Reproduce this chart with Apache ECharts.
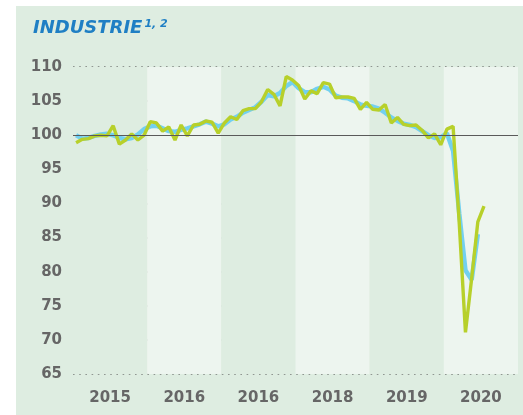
<!DOCTYPE html>
<html>
<head>
<meta charset="utf-8">
<script src="https://cdn.jsdelivr.net/npm/echarts@6/dist/echarts.min.js"></script>
<style>
  html, body { margin: 0; padding: 0; background: #fff; }
  #panel { position: absolute; left: 16px; top: 6px; width: 507px; height: 409px; background: #deede1; }
  #chart { position: absolute; left: 0; top: 0; width: 523px; height: 415px; }
</style>
</head>
<body>
<div id="panel"></div>
<div id="chart"></div>
<script>
// year labels as printed (the third one really reads 2016 in the source)
const yearLabels = ['2015', '2016', '2016', '2018', '2019', '2020']

// monthly index, Jan 2015 .. Jul 2020
const production = [
  98.9, 99.4, 99.5, 99.9, 100.0, 99.9, 101.4, 98.7, 99.3, 100.2, 99.3, 100.0,
  102.0, 101.8, 100.6, 101.2, 99.3, 101.5, 99.9, 101.5, 101.6, 102.1, 101.9, 100.3,
  101.8, 102.7, 102.3, 103.6, 103.9, 103.9, 104.9, 106.7, 106.0, 104.3, 108.6, 108.1,
  107.3, 105.3, 106.5, 106.1, 107.7, 107.5, 105.5, 105.6, 105.6, 105.4, 103.8, 104.8,
  103.8, 103.7, 104.5, 101.8, 102.6, 101.6, 101.4, 101.5, 100.7, 99.6, 100.2, 98.6,
  100.9, 101.3, 87.0, 71.1, 79.0, 87.3, 89.6,
]

// smoothed trend, Jan 2015 .. Jun 2020
const trend = [
  100.0, 99.5, 99.6, 99.9, 100.1, 100.2, 100.0, 99.6, 99.4, 99.6, 100.1, 100.9,
  101.3, 101.4, 101.0, 100.6, 100.5, 100.8, 101.0, 101.3, 101.6, 102.0, 101.7, 101.3,
  101.6, 102.3, 102.7, 103.3, 103.7, 104.1, 104.9, 105.9, 105.7, 106.2, 107.2, 107.8,
  106.9, 106.3, 106.3, 106.8, 107.1, 106.7, 105.8, 105.5, 105.4, 105.0, 104.5, 104.3,
  104.2, 103.9, 103.3, 102.6, 102.1, 101.7, 101.5, 101.2, 100.6, 100.0, 99.6, 99.7,
  100.3, 97.7, 88.5, 80.2, 78.8, 85.5,
]

const months = []
for (let y = 2015; y <= 2020; y++) {
  for (let m = 1; m <= 12; m++) months.push(y + '-' + m)
}

const labelFont = { fontFamily: 'DejaVu Sans', fontWeight: 'bold', fontSize: 15, color: '#666' }

const chart = echarts.init(document.getElementById('chart'))

chart.setOption({
  backgroundColor: 'transparent',
  animation: false,
  title: {
    left: 28,
    top: 14,
    text: '{a|INDUSTRIE}{b|1, 2}',
    textStyle: {
      rich: {
        a: { fontFamily: 'DejaVu Sans', fontStyle: 'italic', fontWeight: 'bold', fontSize: 18, color: '#1f7fc4' },
        b: { fontFamily: 'DejaVu Sans', fontStyle: 'italic', fontWeight: 'bold', fontSize: 11, color: '#1f7fc4', verticalAlign: 'top', padding: [0, 0, 8, 2] },
      },
    },
  },
  grid: { left: 73, right: 5, top: 67, bottom: 41 },
  xAxis: [
    {
      type: 'category',
      data: yearLabels,
      boundaryGap: true,
      axisLine: { show: false },
      axisTick: { show: false },
      splitLine: { show: false },
      splitArea: { show: true, interval: 0, areaStyle: { color: ['#deede1', '#edf5ef'] } },
      axisLabel: { ...labelFont, margin: 17 },
    },
    {
      type: 'category',
      data: months,
      boundaryGap: true,
      show: false,
    },
  ],
  yAxis: {
    type: 'value',
    min: 65,
    max: 110,
    interval: 5,
    axisLine: { show: false },
    axisTick: { show: false },
    axisLabel: { ...labelFont, margin: 11 },
    splitLine: { lineStyle: { color: '#767a77', width: 1.6, type: [1.6, 4.6] } },
  },
  series: [
    {
      name: 'base',
      type: 'line',
      xAxisIndex: 1,
      data: [],
      z: 1,
      markLine: {
        silent: true,
        symbol: ['none', 'none'],
        label: { show: false },
        lineStyle: { color: '#5a5a5a', width: 1.2, type: 'solid' },
        data: [{ yAxis: 100 }],
      },
    },
    {
      name: 'Trend',
      type: 'line',
      xAxisIndex: 1,
      showSymbol: false,
      data: trend,
      lineStyle: { color: '#72d0f0', width: 4.5 },
      z: 2,
    },
    {
      name: 'Industrie',
      type: 'line',
      xAxisIndex: 1,
      showSymbol: false,
      data: production,
      lineStyle: { color: '#b7d02a', width: 3.4 },
      z: 3,
    },
  ],
})
</script>
</body>
</html>
